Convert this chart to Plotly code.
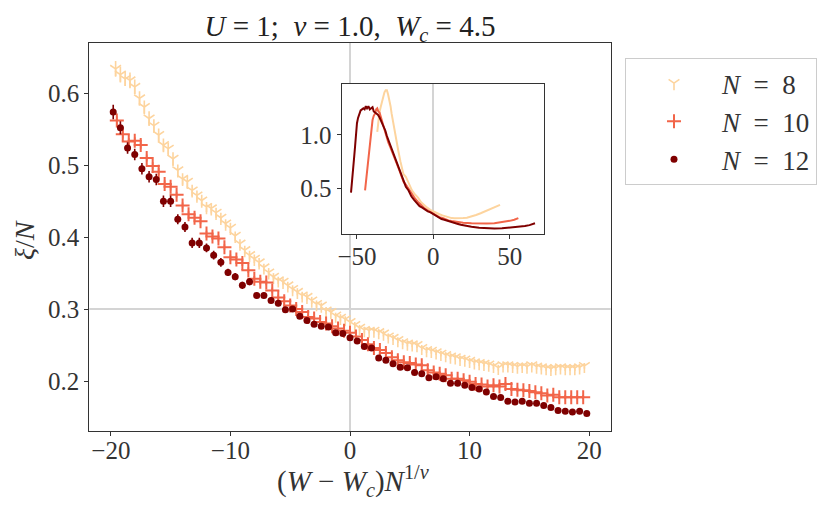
import plotly.graph_objects as go

# colours (OrRd-like)
c8 = '#fdd49e'
c10 = '#f26549'
c12 = '#7f0000'

# ---- main panel data: xi/N vs (W-Wc) N^(1/nu) ----
n8_x = [-19.6, -19.2, -18.8, -18.4, -18.0, -17.6, -17.2, -16.8, -16.4, -16.0,
        -15.6, -15.2, -14.8, -14.4, -14.0, -13.6, -13.2, -12.8, -12.4, -12.0,
        -11.6, -11.2, -10.8, -10.4, -10.0, -9.6, -9.2, -8.8, -8.4, -8.0,
        -7.6, -7.2, -6.8, -6.4, -6.0, -5.6, -5.2, -4.8, -4.4, -4.0,
        -3.6, -3.2, -2.8, -2.4, -2.0, -1.6, -1.2, -0.8, -0.4, 0.0,
        0.4, 0.8, 1.2, 1.6, 2.0, 2.4, 2.8, 3.2, 3.6, 4.0,
        4.4, 4.8, 5.2, 5.6, 6.0, 6.4, 6.8, 7.2, 7.6, 8.0,
        8.4, 8.8, 9.2, 9.6, 10.0, 10.4, 10.8, 11.2, 11.6, 12.0,
        12.4, 12.8, 13.2, 13.6, 14.0, 14.4, 14.8, 15.2, 15.6, 16.0,
        16.4, 16.8, 17.2, 17.6, 18.0, 18.4, 18.8, 19.2, 19.6]
n8_y = [0.634, 0.626, 0.620, 0.618, 0.609, 0.593, 0.581, 0.565, 0.555, 0.542,
        0.528, 0.523, 0.509, 0.493, 0.481, 0.477, 0.465, 0.458, 0.451, 0.442,
        0.440, 0.434, 0.427, 0.419, 0.413, 0.402, 0.391, 0.382, 0.375, 0.370,
        0.365, 0.358, 0.351, 0.345, 0.340, 0.338, 0.333, 0.328, 0.324, 0.319,
        0.317, 0.312, 0.307, 0.305, 0.298, 0.296, 0.291, 0.288, 0.286, 0.282,
        0.278, 0.274, 0.271, 0.270, 0.270, 0.268, 0.266, 0.262, 0.260, 0.257,
        0.254, 0.252, 0.251, 0.250, 0.246, 0.243, 0.242, 0.240, 0.238, 0.236,
        0.234, 0.233, 0.231, 0.230, 0.228, 0.226, 0.225, 0.224, 0.223, 0.221,
        0.2185, 0.222, 0.222, 0.221, 0.220, 0.221, 0.220, 0.222, 0.220, 0.219,
        0.218, 0.217, 0.218, 0.219, 0.218, 0.218, 0.218, 0.219, 0.221]
n8_err = [0.011, 0.011, 0.010, 0.011, 0.010, 0.010, 0.009, 0.010, 0.009, 0.009,
          0.009, 0.008, 0.009, 0.008, 0.008, 0.008, 0.008, 0.007, 0.008, 0.007,
          0.007, 0.007, 0.007, 0.006, 0.007, 0.006, 0.006, 0.006, 0.006, 0.006,
          0.006, 0.005, 0.006, 0.005, 0.005, 0.005, 0.005, 0.005, 0.005, 0.005,
          0.005, 0.005, 0.005, 0.004, 0.005, 0.004, 0.004, 0.005, 0.004, 0.004,
          0.004, 0.004, 0.004, 0.004, 0.004, 0.004, 0.004, 0.004, 0.004, 0.004,
          0.004, 0.004, 0.004, 0.004, 0.004, 0.004, 0.004, 0.004, 0.004, 0.004,
          0.004, 0.004, 0.004, 0.004, 0.004, 0.004, 0.004, 0.004, 0.004, 0.004,
          0.004, 0.004, 0.004, 0.004, 0.004, 0.004, 0.004, 0.004, 0.004, 0.004,
          0.004, 0.004, 0.004, 0.004, 0.004, 0.004, 0.004, 0.004, 0.004]

n10_x = [-19.5, -19.0, -18.5, -18.0, -17.5, -17.0, -16.5, -16.0, -15.5, -15.0,
         -14.5, -14.0, -13.5, -13.0, -12.5, -12.0, -11.5, -11.0, -10.5, -10.0,
         -9.5, -9.0, -8.5, -8.0, -7.5, -7.0, -6.5, -6.0, -5.5, -5.0,
         -4.5, -4.0, -3.5, -3.0, -2.5, -2.0, -1.5, -1.0, -0.5, 0.0,
         0.5, 1.0, 1.5, 2.0, 2.5, 3.0, 3.5, 4.0, 4.5, 5.0,
         5.5, 6.0, 6.5, 7.0, 7.5, 8.0, 8.5, 9.0, 9.5, 10.0,
         10.5, 11.0, 11.5, 12.0, 12.5, 13.0, 13.5, 14.0, 14.5, 15.0,
         15.5, 16.0, 16.5, 17.0, 17.5, 18.0, 18.5, 19.0, 19.5]
n10_y = [0.562, 0.543, 0.533, 0.534, 0.528, 0.510, 0.499, 0.491, 0.474, 0.470,
         0.459, 0.444, 0.432, 0.427, 0.422, 0.405, 0.401, 0.398, 0.386, 0.372,
         0.369, 0.364, 0.354, 0.342, 0.338, 0.337, 0.326, 0.316, 0.311, 0.305,
         0.300, 0.296, 0.289, 0.287, 0.282, 0.280, 0.276, 0.273, 0.270, 0.267,
         0.262, 0.257, 0.251, 0.246, 0.243, 0.239, 0.233, 0.229, 0.226, 0.225,
         0.223, 0.222, 0.215, 0.212, 0.210, 0.208, 0.203, 0.203, 0.201, 0.199,
         0.196, 0.195, 0.1925, 0.194, 0.1925, 0.196, 0.189, 0.188, 0.187, 0.186,
         0.1845, 0.183, 0.180, 0.181, 0.1775, 0.1775, 0.1775, 0.1775, 0.1775]
n10_err = [0.006, 0.006, 0.005, 0.005, 0.005, 0.005, 0.005, 0.005, 0.005, 0.005,
           0.004, 0.004, 0.004, 0.004, 0.004, 0.004, 0.004, 0.004, 0.004, 0.004,
           0.004, 0.004, 0.004, 0.004, 0.004, 0.004, 0.004, 0.004, 0.004, 0.004,
           0.003, 0.003, 0.003, 0.003, 0.003, 0.003, 0.003, 0.003, 0.003, 0.003,
           0.003, 0.003, 0.003, 0.003, 0.003, 0.003, 0.003, 0.003, 0.003, 0.003,
           0.003, 0.003, 0.003, 0.003, 0.003, 0.003, 0.003, 0.003, 0.003, 0.003,
           0.003, 0.003, 0.003, 0.003, 0.003, 0.003, 0.003, 0.003, 0.003, 0.003,
           0.003, 0.003, 0.003, 0.003, 0.003, 0.003, 0.003, 0.003, 0.003]

n12_x = [-19.8, -19.2, -18.6, -18.0, -17.4, -16.8, -16.2, -15.6, -15.0, -14.4,
         -13.8, -13.2, -12.6, -12.0, -11.4, -10.8, -10.2, -9.6, -9.0, -8.4,
         -7.8, -7.2, -6.6, -6.0, -5.4, -4.8, -4.2, -3.6, -3.0, -2.4,
         -1.8, -1.2, -0.6, 0.0, 0.6, 1.2, 1.8, 2.4, 3.0, 3.6,
         4.2, 4.8, 5.4, 6.0, 6.6, 7.2, 7.8, 8.4, 9.0, 9.6,
         10.2, 10.8, 11.4, 12.0, 12.6, 13.2, 13.8, 14.4, 15.0, 15.6,
         16.2, 16.8, 17.4, 18.0, 18.6, 19.2, 19.8]
n12_y = [0.574, 0.552, 0.524, 0.515, 0.495, 0.484, 0.480, 0.450, 0.450, 0.425,
         0.414, 0.392, 0.392, 0.385, 0.375, 0.365, 0.351, 0.345, 0.333, 0.338,
         0.319, 0.319, 0.312, 0.308, 0.299, 0.300, 0.290, 0.284, 0.279, 0.276,
         0.275, 0.267, 0.266, 0.260, 0.2555, 0.248, 0.246, 0.232, 0.229, 0.224,
         0.219, 0.2185, 0.212, 0.210, 0.2045, 0.206, 0.203, 0.197, 0.197, 0.194,
         0.191, 0.189, 0.1846, 0.1786, 0.177, 0.172, 0.1707, 0.172, 0.169, 0.169,
         0.166, 0.163, 0.159, 0.158, 0.157, 0.158, 0.155]
n12_err = [0.010, 0.009, 0.008, 0.008, 0.008, 0.008, 0.008, 0.008, 0.008, 0.007,
           0.007, 0.007, 0.007, 0.006, 0.006, 0.006, 0.005, 0.005, 0.005, 0.005,
           0.004, 0.004, 0.004, 0.004, 0.004, 0.003, 0.003, 0.003, 0.003, 0.003,
           0.003, 0.003, 0.003, 0.003, 0.003, 0.003, 0.003, 0.003, 0.003, 0.003,
           0.002, 0.002, 0.002, 0.002, 0.002, 0.002, 0.002, 0.002, 0.002, 0.002,
           0.002, 0.002, 0.002, 0.002, 0.002, 0.002, 0.002, 0.002, 0.002, 0.002,
           0.002, 0.002, 0.002, 0.002, 0.002, 0.002, 0.002]

# ---- inset data: full range curves ----
in8_x = [-36.7, -36.0, -35.3, -34.5, -33.7, -32.9, -32.0, -31.2, -30.4, -29.6,
         -28.8, -28.0, -27.3, -26.5, -25.7, -25.0, -24.0, -22.9, -21.5, -20.5,
         -19.6, -18.0, -16.0, -14.0, -12.0, -10.0, -8.0, -6.0, -4.0, -2.0,
         0.0, 2.0, 4.0, 6.0, 8.0, 10.0, 12.0, 14.0, 16.0, 18.0,
         19.6, 22.0, 25.0, 28.0, 31.0, 34.0, 37.0, 40.0, 43.7]
in8_y = [1.03, 1.13, 1.21, 1.26, 1.31, 1.35, 1.40, 1.42, 1.42, 1.38,
         1.33, 1.27, 1.20, 1.13, 1.06, 1.01, 0.94, 0.85, 0.75, 0.69,
         0.634, 0.609, 0.542, 0.481, 0.442, 0.413, 0.370, 0.340, 0.319, 0.298,
         0.282, 0.270, 0.257, 0.246, 0.236, 0.228, 0.221, 0.220, 0.219, 0.218,
         0.221, 0.225, 0.236, 0.250, 0.266, 0.283, 0.300, 0.320, 0.345]

in10_x = [-44.7, -44.0, -43.2, -42.5, -41.9, -41.3, -40.6, -39.8, -39.0, -38.2,
          -37.4, -36.7, -36.0, -35.2, -34.4, -33.6, -32.6, -31.6, -30.5, -29.5,
          -28.0, -26.5, -24.5, -22.5, -21.0, -19.5, -18.0, -16.0, -14.0, -12.0,
          -10.0, -8.0, -6.0, -4.0, -2.0, 0.0, 2.0, 4.0, 6.0, 8.0,
          10.0, 12.0, 14.0, 16.0, 18.0, 19.5, 25.0, 30.0, 35.0, 40.0,
          45.0, 50.0, 53.0, 55.7]
in10_y = [0.48, 0.58, 0.67, 0.78, 0.86, 0.97, 1.07, 1.14, 1.18, 1.20,
          1.24, 1.25, 1.22, 1.21, 1.17, 1.13, 1.07, 1.02, 0.97, 0.93,
          0.88, 0.83, 0.76, 0.68, 0.62, 0.562, 0.534, 0.491, 0.444, 0.405,
          0.372, 0.342, 0.316, 0.296, 0.280, 0.267, 0.246, 0.229, 0.222, 0.208,
          0.199, 0.194, 0.188, 0.183, 0.1775, 0.1775, 0.172, 0.169, 0.170, 0.172,
          0.180, 0.195, 0.205, 0.220]

in12_x = [-53.9, -53.2, -52.5, -51.8, -51.2, -50.6, -50.0, -49.3, -48.5, -47.6,
          -46.7, -45.8, -45.0, -44.2, -43.4, -42.5, -41.6, -40.7, -39.8, -39.0,
          -38.1, -37.2, -36.3, -35.4, -34.4, -33.4, -32.4, -31.4, -30.4, -29.4,
          -28.0, -26.5, -24.5, -22.5, -21.0, -19.8, -18.0, -16.2, -14.4, -12.6,
          -10.8, -9.0, -7.2, -5.4, -3.6, -1.8, 0.0, 1.8, 3.6, 5.4,
          7.2, 9.0, 10.8, 12.6, 14.4, 16.2, 18.0, 19.8, 25.0, 30.0,
          35.0, 40.0, 45.0, 50.0, 55.0, 60.0, 63.0, 66.6]
in12_y = [0.46, 0.60, 0.70, 0.80, 0.90, 1.02, 1.11, 1.16, 1.19, 1.23,
          1.24, 1.25, 1.24, 1.27, 1.25, 1.27, 1.24, 1.25, 1.26, 1.22,
          1.21, 1.20, 1.19, 1.17, 1.14, 1.11, 1.07, 1.04, 0.99, 0.95,
          0.90, 0.84, 0.76, 0.68, 0.62, 0.574, 0.515, 0.480, 0.425, 0.392,
          0.365, 0.333, 0.319, 0.299, 0.284, 0.275, 0.260, 0.246, 0.224, 0.212,
          0.206, 0.197, 0.189, 0.177, 0.172, 0.166, 0.158, 0.155, 0.140, 0.130,
          0.125, 0.123, 0.125, 0.130, 0.137, 0.146, 0.155, 0.172]

font_fam = "Liberation Serif"
txt = '#333333'
# the page body adds an 8px margin, so positions below are shifted by -8px
W, H, off = 830, 517, 8

fig = go.Figure()

fig.add_trace(go.Scatter(x=n8_x, y=n8_y, mode='markers', name='<i>N</i>&nbsp; = &nbsp;8',
                         marker=dict(symbol='y-down', size=9, color=c8, line=dict(width=1.6, color=c8)),
                         error_y=dict(type='data', array=n8_err, thickness=1.6, width=0, color=c8),
                         legendgroup='a'))
fig.add_trace(go.Scatter(x=n10_x, y=n10_y, mode='markers', name='<i>N</i>&nbsp; = &nbsp;10',
                         marker=dict(symbol='cross-thin', size=10, color=c10, line=dict(width=2, color=c10)),
                         error_y=dict(type='data', array=n10_err, thickness=1.6, width=0, color=c10),
                         legendgroup='b'))
fig.add_trace(go.Scatter(x=n12_x, y=n12_y, mode='markers', name='<i>N</i>&nbsp; = &nbsp;12',
                         marker=dict(symbol='circle', size=7, color=c12),
                         error_y=dict(type='data', array=n12_err, thickness=1.6, width=0, color=c12),
                         legendgroup='c'))

# inset
for xs, ys, c in [(in8_x, in8_y, c8), (in10_x, in10_y, c10), (in12_x, in12_y, c12)]:
    fig.add_trace(go.Scatter(x=xs, y=ys, mode='lines', line=dict(color=c, width=2),
                             xaxis='x2', yaxis='y2', showlegend=False))

# reference lines at y = 0.3
fig.add_shape(type='line', xref='x domain', yref='y', x0=0, x1=1, y0=0.3, y1=0.3,
              line=dict(color='#d4d4d4', width=2), layer='below')
fig.add_shape(type='line', xref='x2 domain', yref='y2', x0=0, x1=1, y0=0.3, y1=0.3,
              line=dict(color='#d4d4d4', width=2), layer='below')

def px_x(p):
    return (p - off) / W

def px_y(p):
    return 1 - (p - off) / H

axis_common = dict(showline=True, linecolor=txt, linewidth=1.3, mirror=True,
                   ticks='outside', ticklen=4, tickcolor=txt, showgrid=False,
                   zeroline=False, automargin=False, tickfont=dict(size=25))
zl = dict(zeroline=True, zerolinecolor='#d4d4d4', zerolinewidth=2)

fig.update_layout(
    width=W, height=H,
    margin=dict(l=0, r=0, t=0, b=0, autoexpand=False),
    paper_bgcolor='white', plot_bgcolor='white',
    font=dict(family=font_fam, color=txt, size=25),
    title=dict(text='<i>U</i> = 1;&nbsp; <i>ν</i> = 1.0,&nbsp; <i>W<sub>c</sub></i> = 4.5',
               x=px_x(350), y=px_y(26), xanchor='center', yanchor='middle',
               font=dict(size=29, color='#222222')),
    xaxis=dict(domain=[px_x(89.3), px_x(610.7)], range=[-21.8, 21.8], tickvals=[-20, -10, 0, 10, 20],
               ticklabelstandoff=-7, **{**axis_common, **zl}),
    yaxis=dict(domain=[px_y(431), px_y(43.3)], range=[0.1305, 0.6695], tickvals=[0.2, 0.3, 0.4, 0.5, 0.6],
               ticktext=['0.2', '0.3', '0.4', '0.5', '0.6'], **axis_common),
    xaxis2=dict(domain=[px_x(341.7), px_x(544)], range=[-60, 72.5], tickvals=[-50, 0, 50], anchor='y2',
                ticklabelstandoff=-4, **{**axis_common, **zl}),
    yaxis2=dict(domain=[px_y(234.3), px_y(84)], range=[0.069, 1.478], tickvals=[0.5, 1.0],
                ticktext=['0.5', '1.0'], anchor='x2', **axis_common),
    legend=dict(x=px_x(625), y=px_y(58), xanchor='left', yanchor='top',
                bordercolor='#cccccc', borderwidth=1, bgcolor='white',
                font=dict(size=27), itemwidth=86, tracegroupgap=0),
)

# axis titles
fig.add_annotation(text='(<i>W</i> − <i>W<sub>c</sub></i>)<i>N</i><sup>1/<i>ν</i></sup>',
                   xref='paper', yref='paper', x=px_x(353), y=px_y(481),
                   xanchor='center', yanchor='middle', showarrow=False, font=dict(size=29))
fig.add_annotation(text='<i>ξ</i>/<i>N</i>', textangle=-90,
                   xref='paper', yref='paper', x=px_x(24), y=px_y(240),
                   xanchor='center', yanchor='middle', showarrow=False, font=dict(size=28))

fig.write_html("out.html")
